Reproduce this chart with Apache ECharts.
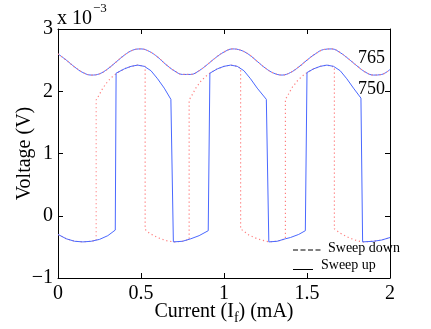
<!DOCTYPE html>
<html><head><meta charset="utf-8">
<script src="https://cdn.jsdelivr.net/npm/echarts@6/dist/echarts.min.js"></script>
<style>html,body{margin:0;padding:0;background:#fff}#c{width:431px;height:329px}</style>
</head><body><div id="c"></div>
<script>
// Axis ticks
const xTicks = [0, 0.5, 1, 1.5, 2];
const yTicks = [-1, 0, 1, 2, 3];
// Curve "765": sweep up and sweep down coincide (values in 1e-3 V, x in mA)
const curve765X = [0,0.05,0.10,0.15,0.20,0.25,0.30,0.35,0.40,0.45,0.50,0.55,0.60,0.65,0.70,0.75,0.80,0.85,0.90,0.95,1.00,1.05,1.10,1.15,1.20,1.25,1.30,1.35,1.40,1.45,1.50,1.55,1.60,1.65,1.70,1.75,1.80,1.85,1.90,1.95,2.00];
const curve765V = [2.60,2.50,2.39,2.30,2.26,2.28,2.36,2.47,2.58,2.66,2.68,2.64,2.55,2.43,2.33,2.27,2.27,2.33,2.43,2.54,2.63,2.68,2.66,2.59,2.48,2.37,2.29,2.26,2.30,2.39,2.50,2.60,2.67,2.68,2.62,2.52,2.41,2.31,2.26,2.27,2.35];
// Curve "750", sweep up (solid)
const up750X = [0,0.05,0.10,0.15,0.20,0.25,0.30,0.345, 0.35,0.40,0.44,0.48,0.52,0.56,0.60,0.64,0.68, 0.695,0.75,0.80,0.85,0.905, 0.915,0.96,1.00,1.04,1.08,1.12,1.16,1.20,1.255, 1.27,1.32,1.37,1.40,1.45,1.49, 1.50,1.54,1.58,1.62,1.66,1.70,1.74,1.78,1.825, 1.835,1.90,1.95,2.00];
const up750V = [-0.30,-0.37,-0.41,-0.42,-0.41,-0.38,-0.32,-0.23, 2.29,2.36,2.40,2.42,2.40,2.33,2.20,2.05,1.87, -0.42,-0.41,-0.37,-0.32,-0.24, 2.29,2.36,2.40,2.42,2.40,2.33,2.20,2.05,1.87, -0.42,-0.41,-0.37,-0.35,-0.30,-0.24, 2.30,2.36,2.40,2.42,2.40,2.33,2.20,2.05,1.89, -0.42,-0.41,-0.39,-0.35];
// Curve "750", sweep down (dotted)
const down750X = [0,0.05,0.10,0.15,0.20,0.23, 0.23,0.25,0.27,0.30,0.33,0.36,0.40,0.44,0.48,0.525, 0.525,0.55,0.60,0.65,0.70,0.75,0.79, 0.79,0.81,0.83,0.86,0.89,0.92,0.96,1.00,1.04,1.08,1.10, 1.10,1.12,1.15,1.20,1.27,1.32,1.37, 1.37,1.39,1.41,1.44,1.47,1.50,1.54,1.58,1.62,1.665, 1.665,1.70,1.75,1.80,1.835,1.90,1.95,2.00];
const down750V = [-0.30,-0.37,-0.41,-0.42,-0.41,-0.40, 1.86,1.95,2.05,2.16,2.24,2.30,2.36,2.40,2.42,2.40, -0.22,-0.28,-0.35,-0.40,-0.42,-0.41,-0.38, 1.86,1.95,2.05,2.16,2.24,2.30,2.36,2.40,2.42,2.40,2.37, -0.21,-0.25,-0.31,-0.37,-0.42,-0.41,-0.37, 1.87,1.96,2.06,2.16,2.24,2.30,2.36,2.40,2.42,2.39, -0.21,-0.28,-0.35,-0.40,-0.42,-0.41,-0.39,-0.35];

const zip = (xs, ys) => xs.map((x, i) => [x, ys[i]]);
const FONT = 'Liberation Serif';
const BLUE = '#4a68ff';
const RED = '#ff7f7f';

const axisCommon = {
  type: 'value',
  axisLine: {show: true, onZero: false, lineStyle: {color: '#000', width: 1}},
  axisTick: {show: true, inside: true, length: 5, lineStyle: {color: '#000'}},
  splitLine: {show: false}
};

const chart = echarts.init(document.getElementById('c'), null, {renderer: 'canvas'});
chart.setOption({
  animation: false,
  backgroundColor: '#fff',
  grid: {left: 58, top: 29, width: 332, height: 249, containLabel: false, outerBoundsMode: 'none'},
  xAxis: [
    Object.assign({}, axisCommon, {
      position: 'bottom', min: xTicks[0], max: xTicks[xTicks.length - 1], interval: xTicks[1] - xTicks[0],
      axisLabel: {fontFamily: FONT, fontSize: 20, color: '#000', margin: 6},
      name: 'Current (I{sub|f}) (mA)', nameLocation: 'middle', nameGap: 21, nameMoveOverlap: false,
      nameTextStyle: {fontFamily: FONT, fontSize: 20, color: '#000', lineHeight: 26, verticalAlign: 'top',
        rich: {sub: {fontFamily: FONT, fontSize: 14, color: '#000', verticalAlign: 'bottom', lineHeight: 14}}}
    }),
    Object.assign({}, axisCommon, {
      position: 'top', min: xTicks[0], max: xTicks[xTicks.length - 1], interval: xTicks[1] - xTicks[0],
      axisLabel: {show: false}
    })
  ],
  yAxis: [
    Object.assign({}, axisCommon, {
      position: 'left', min: yTicks[0], max: yTicks[yTicks.length - 1], interval: yTicks[1] - yTicks[0],
      axisLabel: {fontFamily: FONT, fontSize: 20, color: '#000', margin: 5,
        formatter: v => String(v).replace('-', '\u2212')},
      name: 'Voltage (V)', nameLocation: 'middle', nameGap: 23, nameRotate: 90, nameMoveOverlap: false,
      nameTextStyle: {fontFamily: FONT, fontSize: 20, color: '#000'}
    }),
    Object.assign({}, axisCommon, {
      position: 'right', min: yTicks[0], max: yTicks[yTicks.length - 1], interval: yTicks[1] - yTicks[0],
      axisLabel: {show: false}
    })
  ],
  series: [
    {type: 'line', name: '765 up', data: zip(curve765X, curve765V), smooth: 0.4, symbol: 'none',
      lineStyle: {color: BLUE, width: 1}},
    {type: 'line', name: '765 down', data: zip(curve765X, curve765V), smooth: 0.4, symbol: 'none',
      lineStyle: {color: RED, width: 1.2, type: [1.2, 2.8]}},
    {type: 'line', name: '750 down', data: zip(down750X, down750V), symbol: 'none',
      lineStyle: {color: RED, width: 1.2, type: [1.2, 2.8]}},
    {type: 'line', name: '750 up', data: zip(up750X, up750V), symbol: 'none',
      lineStyle: {color: BLUE, width: 1}}
  ],
  graphic: [
    {type: 'text', left: 57, top: 9, style: {text: 'x 10', fontFamily: FONT, fontSize: 20, fill: '#000'}},
    {type: 'text', left: 93, top: 2, style: {text: '\u22123', fontFamily: FONT, fontSize: 13, fill: '#000'}},
    {type: 'text', left: 358, top: 49, style: {text: '765', fontFamily: FONT, fontSize: 18, fill: '#000'}},
    {type: 'text', left: 358, top: 80, style: {text: '750', fontFamily: FONT, fontSize: 18, fill: '#000'}},
    {type: 'line', shape: {x1: 293, y1: 250, x2: 322, y2: 250}, style: {stroke: '#000', lineWidth: 1, lineDash: [5, 2.5]}},
    {type: 'text', left: 328, top: 241, style: {text: 'Sweep down', fontFamily: FONT, fontSize: 14, fill: '#000'}},
    {type: 'line', shape: {x1: 293, y1: 269.5, x2: 313, y2: 269.5}, style: {stroke: '#000', lineWidth: 1}},
    {type: 'text', left: 321, top: 258, style: {text: 'Sweep up', fontFamily: FONT, fontSize: 14, fill: '#000'}}
  ]
});
</script></body></html>
